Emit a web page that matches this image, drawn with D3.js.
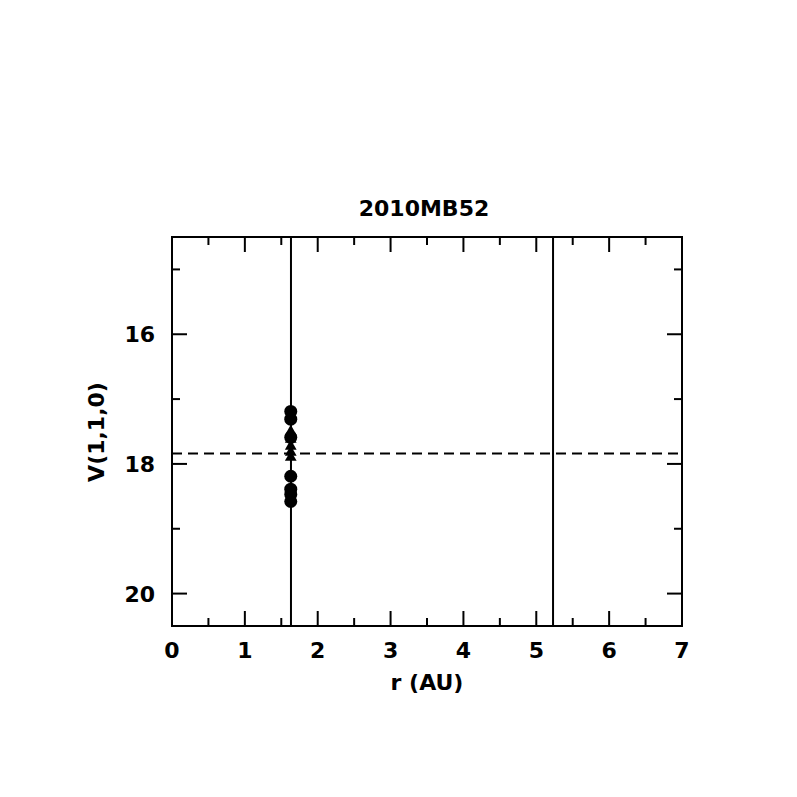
<!DOCTYPE html>
<html><head><meta charset="utf-8">
<script src="https://cdn.jsdelivr.net/npm/d3@7"></script>
<style>body{margin:0;background:#fff}svg{display:block}</style>
</head><body>
<script>
const title = "2010MB52";
const xLabel = "r (AU)";
const yLabel = "V(1,1,0)";
const xDomain = [0, 7];
const yDomain = [14.5, 20.5];
const xTicksMajor = [0,1,2,3,4,5,6,7];
const xTicksMinor = [0.5,1.5,2.5,3.5,4.5,5.5,6.5];
const yTicksMajor = [16,18,20];
const yTicksMinor = [15,17,19];
const vLines = [1.633, 5.23];
const hDashed = 17.84;
const circlesR = [1.63,1.63,1.63,1.63,1.63,1.63,1.63];
const circlesV = [17.19,17.31,17.59,18.19,18.39,18.47,18.58];
const trianglesR = [1.63,1.63,1.63,1.63,1.63];
const trianglesV = [17.50,17.62,17.73,17.82,17.90];

const W=797,H=797;
const m={l:172,r:682,t:237,b:626};
const svg=d3.select("body").append("svg").attr("width",W).attr("height",H);
const x=d3.scaleLinear().domain(xDomain).range([m.l,m.r]);
const y=d3.scaleLinear().domain(yDomain).range([m.t,m.b]);
const font="'DejaVu Sans', sans-serif";
const fs=22;

svg.append("rect").attr("x",m.l).attr("y",m.t).attr("width",m.r-m.l).attr("height",m.b-m.t)
  .attr("fill","none").attr("stroke","#000").attr("stroke-width",2);

function ticks(scale, vals, len, orient){
  vals.forEach(v=>{
    const p=scale(v);
    if(orient==="x"){
      svg.append("line").attr("x1",p).attr("x2",p).attr("y1",m.b).attr("y2",m.b-len).attr("stroke","#000").attr("stroke-width",2);
      svg.append("line").attr("x1",p).attr("x2",p).attr("y1",m.t).attr("y2",m.t+len).attr("stroke","#000").attr("stroke-width",2);
    } else {
      svg.append("line").attr("y1",p).attr("y2",p).attr("x1",m.l).attr("x2",m.l+len).attr("stroke","#000").attr("stroke-width",2);
      svg.append("line").attr("y1",p).attr("y2",p).attr("x1",m.r).attr("x2",m.r-len).attr("stroke","#000").attr("stroke-width",2);
    }
  });
}
ticks(x,xTicksMajor,15,"x");
ticks(x,xTicksMinor,8,"x");
ticks(y,yTicksMajor,15,"y");
ticks(y,yTicksMinor,8,"y");

function txt(){ return svg.append("text").attr("font-family",font).attr("font-size",fs).attr("font-weight","bold"); }

xTicksMajor.forEach(d=>{
  txt().attr("x",x(d)).attr("y",658).attr("text-anchor","middle").text(d);
});
yTicksMajor.forEach(d=>{
  txt().attr("x",155).attr("y",y(d)+8).attr("text-anchor","end").text(d);
});

txt().attr("x",424).attr("y",216).attr("text-anchor","middle").text(title);
txt().attr("x",427).attr("y",690).attr("text-anchor","middle").text(xLabel);
txt().attr("transform","translate(104,432) rotate(-90)").attr("text-anchor","middle").text(yLabel);

vLines.forEach(v=>{
  svg.append("line").attr("x1",x(v)).attr("x2",x(v)).attr("y1",m.t).attr("y2",m.b)
    .attr("stroke","#000").attr("stroke-width",2);
});
svg.append("line").attr("x1",m.l).attr("x2",m.r).attr("y1",y(hDashed)).attr("y2",y(hDashed))
  .attr("stroke","#000").attr("stroke-width",2).attr("stroke-dasharray","10,6");

svg.selectAll(".c").data(circlesV).enter().append("circle")
  .attr("cx",(d,i)=>x(circlesR[i])).attr("cy",d=>y(d)).attr("r",6.5).attr("fill","#000");
const tri=d3.symbol().type(d3.symbolTriangle).size(60);
svg.selectAll(".t").data(trianglesV).enter().append("path")
  .attr("d",tri).attr("transform",(d,i)=>`translate(${x(trianglesR[i])},${y(d)})`).attr("fill","#000");
</script>
</body></html>
